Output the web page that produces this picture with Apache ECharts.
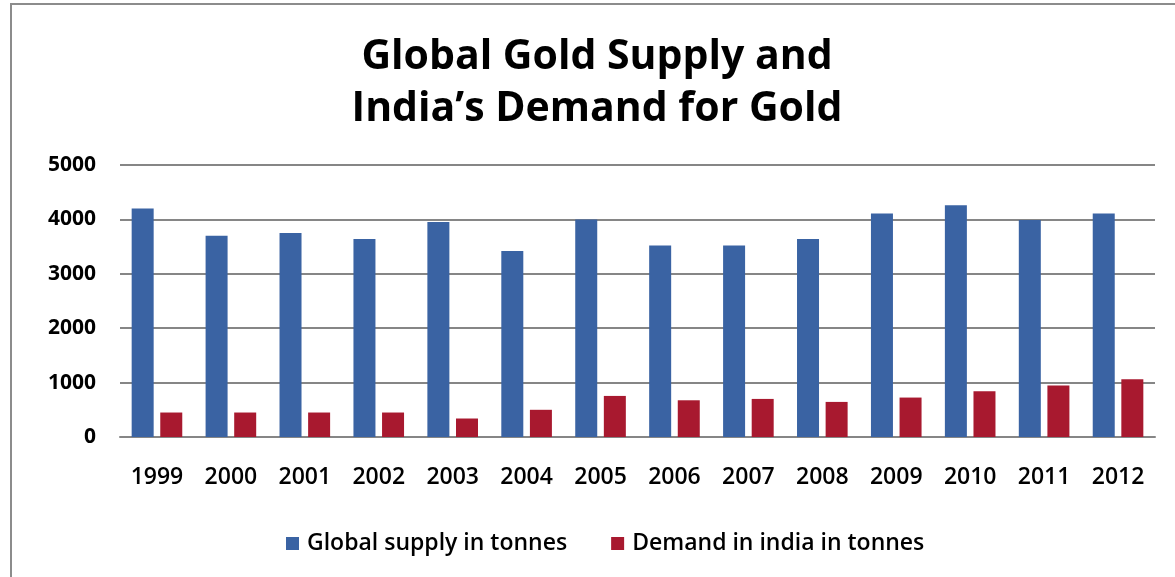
<!DOCTYPE html>
<html lang="en">
<head>
<meta charset="UTF-8">
<title>Global Gold Supply</title>
<script src="https://cdn.jsdelivr.net/npm/echarts@6/dist/echarts.min.js"></script>
<style>
  html, body { margin: 0; padding: 0; background: #fff; }
  .wrap { position: relative; width: 1175px; height: 577px; }
  #app { width: 1175px; height: 577px; }
  .frame {
      position: absolute; left: 10px; top: 3px; right: -5px; bottom: -5px;
      border-top: 2px solid #8c8c8c; border-left: 2px solid #8c8c8c;
      pointer-events: none;
  }
</style>
</head>
<body>
<div class="wrap">
    <div id="app"></div>
    <div class="frame"></div>
</div>
<script>
// values (tonnes)
const years = ['1999', '2000', '2001', '2002', '2003', '2004', '2005', '2006', '2007', '2008', '2009', '2010', '2011', '2012'];
const globalSupply = [4200, 3700, 3750, 3640, 3950, 3420, 4000, 3520, 3520, 3640, 4110, 4260, 3990, 4110];
const indiaDemand = [450, 450, 450, 450, 340, 500, 755, 675, 700, 645, 725, 840, 945, 1060];

const chart = echarts.init(document.getElementById('app'));

const option = {
    animation: false,
    title: {
        text: 'Global Gold Supply and\nIndia\u2019s Demand for Gold',
        left: 597,
        textAlign: 'center',
        top: 31,
        padding: 0,
        textStyle: {
            fontFamily: 'Open Sans',
            fontWeight: 'bold',
            fontSize: 41,
            lineHeight: 52,
            color: '#000'
        }
    },
    legend: {
        bottom: 17,
        left: 281,
        itemWidth: 13,
        itemHeight: 13,
        itemGap: 44,
        icon: 'rect',
        textStyle: { fontFamily: 'Open Sans', fontWeight: 600, fontSize: 23, color: '#000', padding: [0, 0, 0, 3] },
        data: ['Global supply in tonnes', 'Demand in india in tonnes']
    },
    grid: { left: 120, right: 20, top: 165, bottom: 140 },
    xAxis: {
        type: 'category',
        data: years,
        axisTick: { show: false },
        axisLine: { lineStyle: { color: '#868686', width: 2 } },
        axisLabel: { margin: 29, fontFamily: 'Open Sans', fontWeight: 600, fontSize: 23, color: '#000' }
    },
    yAxis: {
        type: 'value',
        min: 0,
        max: 5000,
        interval: 1000,
        axisLine: { show: false },
        axisTick: { show: false },
        splitLine: { lineStyle: { color: '#868686', width: 2 } },
        axisLabel: {
            margin: 24,
            fontFamily: 'Open Sans',
            fontWeight: 'bold',
            fontSize: 21,
            color: '#000',
            formatter: v => String(v)
        }
    },
    series: [
        {
            name: 'Global supply in tonnes',
            type: 'bar',
            data: globalSupply,
            barWidth: 22,
            barGap: '30%',
            itemStyle: { color: '#3a63a3' }
        },
        {
            name: 'Demand in india in tonnes',
            type: 'bar',
            data: indiaDemand,
            barWidth: 22,
            itemStyle: { color: '#a8192f' }
        }
    ]
};

chart.setOption(option);
</script>
</body>
</html>
